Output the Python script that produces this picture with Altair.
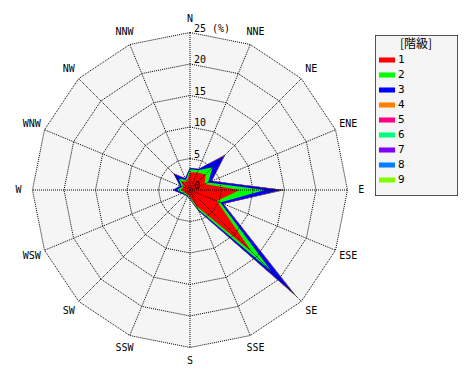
import altair as alt
import pandas as pd
import numpy as np

directions = ["N", "NNE", "NE", "ENE", "E", "ESE", "SE", "SSE",
              "S", "SSW", "SW", "WSW", "W", "WNW", "NW", "NNW"]
classes = ["1", "2", "3", "4", "5", "6", "7", "8", "9"]
colors = ["#ff0000", "#00ff00", "#0000ff", "#ff8000", "#ff0080",
          "#00ff80", "#8000ff", "#0080ff", "#80ff00"]

# frequency (%) per class, per direction (N .. NNW)
c1 = [2.8, 3.0, 3.5, 2.5, 7.9, 4.6, 13.9, 2.8, 1.2, 0.8, 0.8, 0.9, 1.5, 1.1, 2.0, 1.4]
c2 = [0.5, 0.4, 1.6, 0.6, 4.0, 0.6, 4.4, 0.5, 0.2, 0.2, 0.2, 0.3, 0.6, 0.3, 0.6, 0.3]
c3 = [0.2, 0.2, 2.6, 0.6, 2.7, 0.5, 5.0, 0.3, 0.1, 0.1, 0.1, 0.3, 0.6, 0.3, 1.0, 0.3]
c4 = [0.0, 0.0, 0.1, 0.05, 0.2, 0.05, 0.3, 0.0, 0.0, 0.0, 0.0, 0.0, 0.05, 0.0, 0.1, 0.0]
c5 = [0.0, 0.0, 0.05, 0.0, 0.05, 0.0, 0.1, 0.0, 0.0, 0.0, 0.0, 0.0, 0.0, 0.0, 0.05, 0.0]
c6 = [0.0, 0.0, 0.05, 0.0, 0.05, 0.0, 0.1, 0.0, 0.0, 0.0, 0.0, 0.0, 0.0, 0.0, 0.0, 0.0]
c7 = [0.0, 0.0, 0.0, 0.0, 0.05, 0.0, 0.05, 0.0, 0.0, 0.0, 0.0, 0.0, 0.0, 0.0, 0.0, 0.0]
c8 = [0.0, 0.0, 0.05, 0.0, 0.1, 0.0, 0.1, 0.0, 0.0, 0.0, 0.0, 0.0, 0.0, 0.0, 0.0, 0.0]
c9 = [0.0, 0.0, 0.1, 0.0, 0.15, 0.0, 0.3, 0.0, 0.0, 0.0, 0.0, 0.0, 0.0, 0.0, 0.0, 0.0]
freq = [c1, c2, c3, c4, c5, c6, c7, c8, c9]

ring_values = [5, 10, 15, 20, 25]
ring_label_values = [0, 5, 10, 15, 20, 25]
ring_label_texts = ["0", "5", "10", "15", "20", "25 (%)"]
label_radius = 27.2
legend_title = "[階級]"

# build tables
rows = []
for k, cls in enumerate(classes):
    cum = np.sum(np.array(freq[: k + 1]), axis=0)
    for i, d in enumerate(directions):
        rows.append({"cls": cls, "k": k, "idx": i, "dir": d, "r": float(cum[i])})
data_df = pd.DataFrame(rows)

ring_df = pd.DataFrame([{"ring": rv, "idx": i, "r": rv}
                        for rv in ring_values for i in range(len(directions))])
spoke_df = pd.DataFrame({"idx": list(range(len(directions))), "r": [25] * len(directions)})
dir_df = pd.DataFrame({"idx": list(range(len(directions))), "dir": directions,
                       "r": [label_radius] * len(directions)})
rl_df = pd.DataFrame({"r": ring_label_values, "txt": ring_label_texts})
leg_df = pd.DataFrame({"cls": classes})

S = 6.3  # px per %
W, H = 470, 380
CX, CY = 190, 190
xs = alt.Scale(domain=[-CX / S, (W - CX) / S], nice=False, zero=False)
ys = alt.Scale(domain=[-(H - CY) / S, CY / S], nice=False, zero=False)

polar = dict(px="datum.r * sin(datum.idx * PI / 8)", py="datum.r * cos(datum.idx * PI / 8)")

def X(f="px"):
    return alt.X(f + ":Q", scale=xs, axis=None)

def Y(f="py"):
    return alt.Y(f + ":Q", scale=ys, axis=None)

layers = []

# background of plotting disc
bg = alt.Chart(ring_df).transform_filter("datum.ring == 25").transform_calculate(**polar).mark_line(
    filled=True, interpolate="linear-closed", fill="#f5f5f5", strokeWidth=0
).encode(x=X(), y=Y(), order="idx:Q")
layers.append(bg)

# stacked classes, outermost first
for k in range(len(classes) - 1, -1, -1):
    lay = alt.Chart(data_df).transform_filter(f"datum.k == {k}").transform_calculate(**polar).mark_line(
        filled=True, interpolate="linear-closed", color=colors[k], strokeWidth=0
    ).encode(x=X(), y=Y(), order="idx:Q")
    layers.append(lay)

# rings
rings = alt.Chart(ring_df).transform_calculate(**polar).mark_line(
    interpolate="linear-closed", color="black", strokeWidth=1, strokeDash=[1, 1]
).encode(x=X(), y=Y(), detail="ring:N", order="idx:Q")
layers.append(rings)

# spokes
spokes = alt.Chart(spoke_df).transform_calculate(z="0", **polar).mark_rule(
    color="black", strokeWidth=1, strokeDash=[1, 1]
).encode(x=X("z"), y=Y("z"), x2="px:Q", y2="py:Q")
layers.append(spokes)

# ring labels
rl = alt.Chart(rl_df).transform_calculate(z="0").mark_text(
    align="left", baseline="alphabetic", dx=4, dy=-1, font="DejaVu Sans Mono", fontSize=10, color="black"
).encode(x=X("z"), y=Y("r"), text="txt:N")
layers.append(rl)

# direction labels
dl = alt.Chart(dir_df).transform_calculate(**polar).mark_text(
    align="center", baseline="middle", font="DejaVu Sans Mono", fontSize=10, color="black"
).encode(x=X(), y=Y(), text="dir:N")
layers.append(dl)

# legend frame
frame = alt.Chart(leg_df).mark_rect(
    fill="#f5f5f5", stroke="black", strokeWidth=1, strokeDash=[1, 1]
).encode(x=alt.value(375.5), x2=alt.value(457.5), y=alt.value(35.5), y2=alt.value(195.5))
layers.append(frame)

ltitle = alt.Chart(leg_df).transform_filter("datum.cls == '1'").mark_text(
    text=legend_title, font="Noto Sans CJK JP", fontSize=12, align="center", baseline="middle", color="black"
).encode(x=alt.value(416), y=alt.value(44))
layers.append(ltitle)

# legend carrier (no marks drawn)
legend_layer = alt.Chart(leg_df).transform_filter("false").mark_square(opacity=1).encode(
    color=alt.Color("cls:N", scale=alt.Scale(domain=classes, range=colors),
                    legend=alt.Legend(title=None, orient="none", legendX=380, legendY=53,
                                      symbolType="M-1.15,-0.36H1.15V0.36H-1.15Z", symbolSize=196,
                                      symbolStrokeWidth=0, symbolOpacity=1,
                                      labelFont="DejaVu Sans Mono", labelFontSize=11,
                                      labelColor="black", labelOffset=4, rowPadding=3, padding=0))
)
layers.append(legend_layer)

chart = alt.layer(*layers).properties(
    width=W, height=H, autosize=alt.AutoSizeParams(type="none"), padding=0
).configure_view(stroke=None)

chart.save("out.html", embed_options={"renderer": "svg", "actions": False})
